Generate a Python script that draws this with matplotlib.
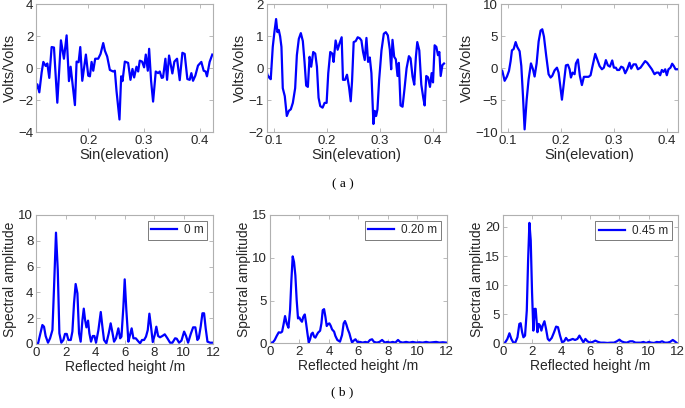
import numpy as np
import matplotlib
matplotlib.use("Agg")
import matplotlib.pyplot as plt

plt.rcParams['font.family'] = ['Liberation Sans', 'DejaVu Sans']

# ---- (a) residual SNR series vs sin(elevation) ----
sin_e1 = [0.1063, 0.1087, 0.1122, 0.1164, 0.1194, 0.1236, 0.1266, 0.1301, 0.1343, 0.1385,
          0.1445, 0.1510, 0.1564, 0.1612, 0.1654, 0.1684, 0.1761, 0.1791, 0.1827, 0.1857,
          0.1893, 0.1958, 0.2000, 0.2030, 0.2060, 0.2090, 0.2125, 0.2179, 0.2221, 0.2269,
          0.2299, 0.2340, 0.2388, 0.2448, 0.2478, 0.2507, 0.2561, 0.2591, 0.2615, 0.2657,
          0.2716, 0.2758, 0.2794, 0.2824, 0.2866, 0.2896, 0.2925, 0.2967, 0.3003, 0.3033,
          0.3069, 0.3093, 0.3128, 0.3164, 0.3212, 0.3254, 0.3284, 0.3319, 0.3343, 0.3385,
          0.3415, 0.3451, 0.3510, 0.3546, 0.3594, 0.3642, 0.3690, 0.3731, 0.3779, 0.3821,
          0.3851, 0.3881, 0.3922, 0.3970, 0.4030, 0.4072, 0.4107, 0.4131, 0.4179, 0.4227]
volt_1 = [-1.3, -1.0, -1.5, -0.25, 0.4, 0.15, 0.3, -0.6, 1.33, 1.3,
          -2.15, 1.75, 0.6, 2.06, -0.8, 0.1, -2.3, 0.42, 0.38, 1.33,
          -0.78, 0.86, -0.46, -0.5, 0.4, -0.15, 0.6, 0.6, 0.9, 1.58,
          1.1, 0.74, -0.1, -0.2, -0.15, -1.4, -3.2, -0.5, -0.8, 0.42,
          0.34, -0.72, -0.04, -0.57, 0.1, -0.2, 0.48, 0.42, 0.06, 0.86,
          -0.15, 1.22, -0.78, -2.08, -0.2, -0.3, -0.2, -0.6, -0.57, 0.6,
          -0.72, 0.8, -0.32, 0.42, 0.6, -0.74, 0.97, 0.9, -0.67, -0.72,
          -0.3, -0.78, -0.46, 0.17, 0.4, -0.15, -0.2, -0.5, 0.4, 0.86]

sin_e2 = [0.0848, 0.0874, 0.0912, 0.0937, 0.0975, 0.1006, 0.1038, 0.1063, 0.1088, 0.1114,
          0.1139, 0.1164, 0.1202, 0.1240, 0.1278, 0.1316, 0.1354, 0.1398, 0.1430, 0.1467,
          0.1505, 0.1543, 0.1575, 0.1606, 0.1638, 0.1670, 0.1701, 0.1739, 0.1777, 0.1809,
          0.1840, 0.1872, 0.1916, 0.1954, 0.1992, 0.2023, 0.2061, 0.2099, 0.2124, 0.2162,
          0.2200, 0.2238, 0.2276, 0.2301, 0.2339, 0.2377, 0.2415, 0.2447, 0.2472, 0.2503,
          0.2541, 0.2579, 0.2617, 0.2649, 0.2680, 0.2712, 0.2744, 0.2775, 0.2807, 0.2838,
          0.2876, 0.2901, 0.2927, 0.2952, 0.2984, 0.3028, 0.3072, 0.3110, 0.3148, 0.3186,
          0.3211, 0.3236, 0.3268, 0.3299, 0.3331, 0.3356, 0.3388, 0.3426, 0.3464, 0.3502,
          0.3546, 0.3577, 0.3615, 0.3647, 0.3678, 0.3704, 0.3742, 0.3780, 0.3817, 0.3843,
          0.3874, 0.3906, 0.3944, 0.3975, 0.4001, 0.4032, 0.4064, 0.4095, 0.4121, 0.4146,
          0.4178, 0.4209]
volt_2 = [0.0, -0.2, -0.3, -0.34, 0.67, 1.13, 1.54, 1.13, 1.2, 1.0,
          0.67, -0.62, -0.87, -1.49, -1.33, -1.28, -1.08, -0.62, 0.41, 0.92,
          1.1, 0.85, 0.2, -0.54, -0.58, 0.36, 0.05, 0.51, 0.46, 0.05,
          -0.92, -1.18, -1.23, -1.08, -1.08, -0.15, 0.51, 0.46, 0.2, 0.87,
          0.58, 0.79, 0.97, -0.36, -0.36, -0.2, -0.58, -1.03, -0.41, 0.82,
          0.85, 0.97, 0.94, 0.87, 0.51, 0.26, 0.95, 0.2, 0.34, -0.15,
          -1.74, -1.33, -1.49, -1.28, -0.36, 0.56, 1.08, 1.13, 1.03, 0.58,
          -0.03, 0.89, 0.36, 0.28, -0.24, 0.17, -1.16, -1.2, -0.62, 0.0,
          0.38, 0.31, -0.26, -0.51, 0.36, 0.82, 0.56, -0.51, -0.92, -1.16,
          -0.24, -0.28, -0.58, -0.15, -0.44, 0.72, 0.67, 0.41, 0.51, -0.24,
          0.1, 0.15]

sin_e3 = [0.0862, 0.0893, 0.0937, 0.0981, 0.1019, 0.1050, 0.1075, 0.1107, 0.1145, 0.1176,
          0.1220, 0.1252, 0.1283, 0.1314, 0.1352, 0.1390, 0.1434, 0.1472, 0.1503, 0.1541,
          0.1579, 0.1616, 0.1648, 0.1679, 0.1723, 0.1767, 0.1805, 0.1836, 0.1881, 0.1925,
          0.1956, 0.1987, 0.2019, 0.2057, 0.2094, 0.2132, 0.2164, 0.2189, 0.2220, 0.2258,
          0.2283, 0.2321, 0.2358, 0.2396, 0.2434, 0.2478, 0.2522, 0.2560, 0.2597, 0.2648,
          0.2686, 0.2730, 0.2774, 0.2811, 0.2849, 0.2887, 0.2925, 0.2969, 0.3000, 0.3038,
          0.3063, 0.3101, 0.3138, 0.3176, 0.3214, 0.3252, 0.3296, 0.3327, 0.3371, 0.3415,
          0.3453, 0.3503, 0.3547, 0.3591, 0.3629, 0.3673, 0.3717, 0.3767, 0.3805, 0.3843,
          0.3874, 0.3906, 0.3937, 0.3969, 0.4000, 0.4031, 0.4069, 0.4101, 0.4132, 0.4164,
          0.4195]
volt_3 = [-0.15, -0.4, -1.95, -1.28, -0.4, 1.13, 2.82, 3.0, 4.1, 3.33,
          2.67, 0.36, -4.26, -9.54, -5.0, -1.7, 0.77, -0.15, -1.28, 0.77,
          4.2, 5.9, 6.1, 4.97, 1.9, -0.92, -1.44, -1.18, -0.31, 0.1,
          -0.67, -2.72, -4.9, -2.2, 0.46, 0.56, -0.15, -1.44, -0.67, -0.92,
          0.77, 1.38, -1.18, -2.62, -1.33, -1.33, -1.33, -1.08, 0.36, 2.26,
          1.38, 0.36, -0.15, 0.1, 1.28, 0.46, 0.26, 1.23, 0.1, 0.1,
          -0.26, -0.26, 0.26, 0.1, -0.77, -0.15, 0.87, -0.05, 0.62, 0.62,
          -0.15, 0.1, 0.62, 1.13, 0.87, 0.36, -0.15, -0.92, -0.67, -0.67,
          -1.08, -0.26, -0.56, -0.15, -1.08, -0.15, 0.1, 0.72, 0.36, -0.15,
          -0.15]

# ---- (b) Lomb-Scargle spectra vs reflected height ----
height_1 = [0.0, 0.14, 0.27, 0.43, 0.54, 0.65, 0.81, 0.95, 1.11, 1.22,
            1.35, 1.47, 1.58, 1.71, 1.85, 1.96, 2.08, 2.19, 2.35, 2.46,
            2.57, 2.68, 2.80, 2.91, 3.02, 3.14, 3.23, 3.32, 3.41, 3.52,
            3.61, 3.72, 3.84, 3.95, 4.06, 4.22, 4.38, 4.49, 4.60, 4.76,
            4.92, 5.05, 5.17, 5.28, 5.41, 5.57, 5.69, 5.78, 5.91, 6.00,
            6.11, 6.25, 6.36, 6.47, 6.59, 6.75, 6.90, 7.04, 7.17, 7.31,
            7.44, 7.56, 7.67, 7.78, 7.90, 8.03, 8.14, 8.26, 8.39, 8.55,
            8.71, 8.89, 9.07, 9.23, 9.41, 9.52, 9.68, 9.84, 10.02, 10.15,
            10.29, 10.47, 10.63, 10.78, 10.92, 11.01, 11.14, 11.26, 11.37, 11.48,
            11.60, 11.78, 12.0]
amp_1 = [0.05, 0.05, 0.7, 1.47, 1.34, 0.62, 0.1, 0.44, 1.08, 4.44,
         8.63, 5.74, 0.83, 0.1, 0.31, 0.78, 0.78, 0.31, 0.31, 0.96,
         3.15, 4.65, 3.93, 0.83, 0.18, 1.86, 2.74, 1.86, 1.29, 1.81,
         0.83, 0.18, 0.62, 0.62, 0.1, 1.08, 2.48, 1.34, 0.31, 0.05,
         0.83, 1.6, 0.88, 0.18, 0.44, 1.21, 0.44, 0.57, 2.89, 5.01,
         2.64, 0.18, 0.7, 1.21, 0.44, 0.44, 0.23, 0.05, 0.31, 0.31,
         0.57, 1.08, 2.35, 1.34, 0.15, 0.7, 1.34, 0.62, 0.52, 0.62,
         0.75, 0.44, 0.1, 0.1, 0.44, 0.41, 0.1, 0.26, 0.96, 0.62,
         0.1, 0.78, 1.29, 1.29, 0.31, 0.44, 1.34, 2.38, 2.38, 1.21,
         0.18, 0.1, 0.1]

height_2 = [0.0, 0.18, 0.32, 0.45, 0.59, 0.72, 0.82, 0.91, 1.02, 1.13,
            1.25, 1.36, 1.45, 1.54, 1.63, 1.72, 1.81, 1.90, 1.99, 2.08,
            2.17, 2.26, 2.36, 2.45, 2.54, 2.63, 2.72, 2.81, 2.90, 2.99,
            3.08, 3.17, 3.26, 3.40, 3.49, 3.58, 3.67, 3.76, 3.85, 3.94,
            4.03, 4.12, 4.21, 4.35, 4.44, 4.57, 4.75, 4.89, 5.00, 5.09,
            5.18, 5.28, 5.39, 5.48, 5.57, 5.68, 5.80, 5.93, 6.11, 6.29,
            6.48, 6.63, 6.79, 6.93, 7.06, 7.25, 7.43, 7.61, 7.79, 7.97,
            8.15, 8.33, 8.51, 8.69, 8.83, 9.01, 9.24, 9.46, 9.69, 9.92,
            10.14, 10.37, 10.60, 10.82, 11.05, 11.28, 11.50, 11.73, 11.95]
amp_2 = [0.08, 0.08, 0.39, 0.85, 1.28, 1.24, 1.36, 2.13, 3.18, 2.33,
         1.82, 3.88, 7.36, 10.16, 9.5, 7.95, 5.04, 2.91, 3.02, 2.71,
         2.52, 3.1, 3.37, 2.33, 1.16, 0.08, 0.47, 1.09, 1.24, 0.78,
         0.66, 0.97, 1.24, 1.47, 2.33, 3.88, 3.99, 3.1, 2.02, 2.25,
         2.33, 2.05, 1.63, 1.36, 0.85, 0.39, 0.19, 0.97, 2.33, 2.6,
         2.21, 1.63, 1.16, 0.58, 0.08, 0.31, 0.47, 0.16, 0.16, 0.08,
         0.16, 0.08, 0.39, 0.47, 0.16, 0.08, 0.16, 0.39, 0.08, 0.16,
         0.08, 0.16, 0.08, 0.39, 0.16, 0.08, 0.16, 0.08, 0.16, 0.08,
         0.12, 0.08, 0.16, 0.08, 0.12, 0.16, 0.08, 0.12, 0.08]

height_3 = [0.0, 0.16, 0.32, 0.46, 0.59, 0.73, 0.87, 1.01, 1.14, 1.23,
            1.33, 1.42, 1.53, 1.65, 1.74, 1.83, 1.92, 2.01, 2.10, 2.19,
            2.26, 2.38, 2.47, 2.56, 2.65, 2.74, 2.86, 2.97, 3.09, 3.20,
            3.36, 3.52, 3.66, 3.79, 3.93, 4.07, 4.21, 4.34, 4.48, 4.62,
            4.80, 4.96, 5.12, 5.26, 5.39, 5.53, 5.67, 5.81, 5.99, 6.17,
            6.35, 6.54, 6.72, 6.95, 7.18, 7.41, 7.63, 7.82, 8.00, 8.14,
            8.32, 8.50, 8.73, 8.91, 9.10, 9.28, 9.46, 9.65, 9.83, 10.01,
            10.19, 10.38, 10.56, 10.74, 10.93, 11.11, 11.29, 11.47, 11.66, 11.79,
            11.93]
amp_3 = [0.0, 0.11, 0.75, 1.72, 0.75, 0.11, 0.17, 1.03, 3.33, 3.45,
         1.9, 1.03, 1.32, 5.63, 14.25, 20.7, 17.7, 8.8, 2.18, 5.92,
         5.92, 1.9, 3.33, 3.05, 2.18, 3.05, 3.79, 2.47, 0.75, 0.46,
         0.92, 1.9, 2.87, 2.76, 1.32, 0.17, 0.34, 0.92, 0.46, 0.57,
         0.75, 0.57, 0.75, 1.32, 0.75, 0.17, 0.75, 0.34, 0.11, 0.23,
         0.46, 0.23, 0.11, 0.11, 0.06, 0.11, 0.11, 0.34, 0.63, 0.34,
         0.17, 0.11, 0.34, 0.34, 0.11, 0.11, 0.11, 0.23, 0.06, 0.23,
         0.11, 0.06, 0.23, 0.17, 0.34, 0.11, 0.11, 0.23, 0.57, 0.34,
         0.06]

legend_labels = ['0 m', '0.20 m', '0.45 m']

BLUE = '#0000ff'
EDGE = '#b0b0b0'
TXT = '#262626'


def style_axes(ax):
    for s in ax.spines.values():
        s.set_color(EDGE)
        s.set_linewidth(0.8)
    ax.tick_params(direction='in', length=3, width=0.6, color=EDGE,
                   labelcolor=TXT, labelsize=9.5, top=True, right=True, pad=2)


fig = plt.figure(figsize=(6.85, 4.08), dpi=100)

top_pos = [[0.0526, 0.6757, 0.2584, 0.3137],
           [0.3893, 0.6757, 0.2613, 0.3137],
           [0.7309, 0.6757, 0.2588, 0.3137]]
bot_pos = [[0.0526, 0.1569, 0.2589, 0.3162],
           [0.3942, 0.1586, 0.2580, 0.3145],
           [0.7339, 0.1586, 0.2555, 0.3137]]

top_data = [(sin_e1, volt_1, (0.1063, 0.424), (-4, 4), [-4, -2, 0, 2, 4], [0.2, 0.3, 0.4]),
            (sin_e2, volt_2, (0.0860, 0.424), (-2, 2), [-2, -1, 0, 1, 2], [0.1, 0.2, 0.3, 0.4]),
            (sin_e3, volt_3, (0.0862, 0.421), (-10, 10), [-10, -5, 0, 5, 10], [0.1, 0.2, 0.3, 0.4])]

for pos, (x, y, xl, yl, yt, xt) in zip(top_pos, top_data):
    ax = fig.add_axes(pos)
    ax.plot(x, y, color=BLUE, lw=1.6)
    ax.set_xlim(*xl)
    ax.set_ylim(*yl)
    ax.set_yticks(yt)
    ax.set_xticks(xt)
    ax.set_xticklabels([f'{v:.1f}' for v in xt])
    ax.set_xlabel('Sin(elevation)', fontsize=10.5, color=TXT, labelpad=1)
    ax.set_ylabel('Volts/Volts', fontsize=10.5, color=TXT, labelpad=1)
    style_axes(ax)

bot_data = [(height_1, amp_1, (0, 10), [0, 2, 4, 6, 8, 10]),
            (height_2, amp_2, (0, 15), [0, 5, 10, 15]),
            (height_3, amp_3, (0, 22), [0, 5, 10, 15, 20])]

for pos, (x, y, yl, yt), lab in zip(bot_pos, bot_data, legend_labels):
    ax = fig.add_axes(pos)
    ax.plot(x, y, color=BLUE, lw=1.6, label=lab)
    ax.set_xlim(0, 12)
    ax.set_ylim(*yl)
    ax.set_yticks(yt)
    ax.set_xticks(range(0, 13, 2))
    ax.set_xlabel('Reflected height /m', fontsize=10, color=TXT, labelpad=1)
    ax.set_ylabel('Spectral amplitude', fontsize=10, color=TXT, labelpad=1)
    style_axes(ax)
    leg = ax.legend(loc='upper right', fontsize=8.5, frameon=True, fancybox=False,
                    borderaxespad=0.5, handlelength=2.2, borderpad=0.3,
                    handletextpad=0.6)
    leg.get_frame().set_edgecolor('#404040')
    leg.get_frame().set_linewidth(0.6)
    for t in leg.get_texts():
        t.set_color(TXT)

fig.text(0.5, 1 - 184 / 408, '( a )', ha='center', va='center',
         family=['Liberation Serif', 'DejaVu Serif'], fontsize=9.5)
fig.text(0.5, 1 - 392 / 408, '( b )', ha='center', va='center',
         family=['Liberation Serif', 'DejaVu Serif'], fontsize=9.5)

fig.savefig('out.png', dpi=100)
